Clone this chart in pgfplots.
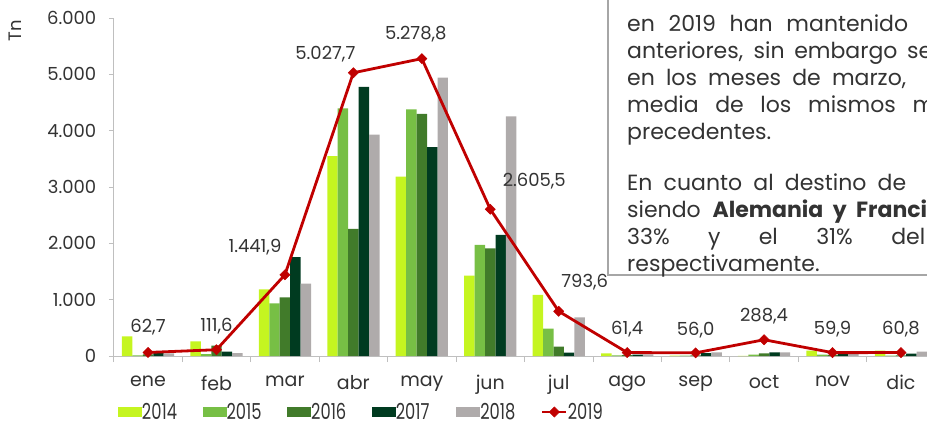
\documentclass[border=0pt]{standalone}
\usepackage{pgfplots}
\pgfplotsset{compat=1.18}
\usepackage{pgfplotstable}
\usepackage{fontspec}
\setmainfont{Poppins}
\definecolor{c14}{HTML}{C5F520}
\definecolor{c15}{HTML}{77BF45}
\definecolor{c16}{HTML}{417B2A}
\definecolor{c17}{HTML}{003B20}
\definecolor{c18}{HTML}{AFABAB}
\definecolor{cred}{HTML}{C00000}
\definecolor{axgray}{HTML}{BFBFBF}
\definecolor{txt}{HTML}{333333}

\pgfplotsset{
  barleg/.style={legend image code/.code={\fill[#1] (0pt,-5pt) rectangle (24pt,5pt);}},
  lineleg/.style={legend image code/.code={\draw[mark repeat=2, mark phase=2, #1] plot coordinates {(0pt,0pt) (12pt,0pt) (24pt,0pt)};}},
}

\pgfplotstableread{
m y14 y15 y16 y17 y18
0 350 10 30 50 45
1 260 35 183 77 53
2 1184 936 1042 1757 1284
3 3550 4395 2255 4776 3929
4 3184 4379 4296 3710 4941
5 1426 1971 1911 2148 4255
6 1083 485 166 59 686
7 47 12 15 25 30
8 6 6 10 53 65
9 3 24 47 65 65
10 95 24 20 35 35
11 95 6 10 41 77
}\bardata

\pgfplotstableread{
m v dx dy
0 62.7 0 25
1 111.6 0 24
2 1441.9 -30 28
3 5027.7 -28 19
4 5278.8 -6 24
5 2605.5 44 28
6 793.6 26 29
7 61.4 0 23
8 56.0 0 23
9 288.4 0 24
10 59.9 0 23
11 60.8 0 23
}\linedata

\newcommand{\lgd}[1]{\makebox[58.6pt][l]{\scalebox{0.74}[1]{#1}}}
\newcommand{\boxfont}{\fontsize{22}{27}\selectfont}

\begin{document}
\begin{tikzpicture}
\useasboundingbox (0,0) rectangle (927pt,426pt);
\clip (0,0) rectangle (927pt,426pt);
\begin{axis}[
  at={(113.8pt,70pt)}, anchor=south west,
  scale only axis, width=821.4pt, height=338pt,
  xmin=-0.5, xmax=11.5, ymin=0, ymax=6000,
  axis x line=bottom, axis y line=left,
  axis line style={-, draw=axgray, line width=0.9pt},
  xtick={0,...,11},
  xticklabels={ene,feb,mar,abr,may,jun,jul,ago,sep,oct,nov,dic},
  minor xtick={-0.5,0.5,...,11.5},
  major x tick style={draw=none},
  minor x tick style={draw=axgray, line width=0.9pt},
  minor tick length=6pt,
  ytick={0,1000,...,6000},
  major y tick style={draw=axgray, line width=0.9pt},
  major tick length=5pt,
  tick align=outside,
  /pgf/number format/assume math mode=true,
  /pgf/number format/1000 sep={.},
  ticklabel style={font=\fontsize{18}{18}\selectfont, text=txt},
  yticklabel style={xshift=-9pt},
  xticklabel style={yshift=-11pt, font=\fontsize{19}{19}\selectfont},
  legend columns=6,
  legend style={at={(0.0051,-0.1657)}, anchor=west, draw=none, fill=none,
    inner sep=0pt, outer sep=0pt, nodes={inner sep=0pt, text=txt},
    font=\fontsize{22}{22}\selectfont,
    /tikz/every even column/.style={column sep=2pt},
    /tikz/every odd column/.style={column sep=0pt}},
  clip=false,
]
\addplot[ybar, bar width=10.45pt, bar shift=-20.9pt, fill=c14, draw=none, barleg] table[x=m, y=y14] {\bardata};
\addlegendentry{\lgd{2014}}
\addplot[ybar, bar width=10.45pt, bar shift=-10.45pt, fill=c15, draw=none, barleg] table[x=m, y=y15] {\bardata};
\addlegendentry{\lgd{2015}}
\addplot[ybar, bar width=10.45pt, bar shift=0pt, fill=c16, draw=none, barleg] table[x=m, y=y16] {\bardata};
\addlegendentry{\lgd{2016}}
\addplot[ybar, bar width=10.45pt, bar shift=10.45pt, fill=c17, draw=none, barleg] table[x=m, y=y17] {\bardata};
\addlegendentry{\lgd{2017}}
\addplot[ybar, bar width=10.45pt, bar shift=20.9pt, fill=c18, draw=none, barleg] table[x=m, y=y18] {\bardata};
\addlegendentry{\lgd{2018}}
\addplot[sharp plot, cred, line width=2.8pt, mark=square*, mark size=3.6pt,
  mark options={rotate=45, fill=cred, draw=cred, line width=0.5pt},
  lineleg,
  visualization depends on={\thisrow{dx} \as \dx},
  visualization depends on={\thisrow{dy} \as \dy},
  nodes near coords={\pgfmathprintnumber[fixed, fixed zerofill, precision=1, use comma, 1000 sep={.}]{\pgfplotspointmeta}},
  every node near coord/.append style={anchor=center, xshift=\dx pt, yshift=\dy pt,
    font=\fontsize{18}{18}\selectfont, text=txt, inner sep=0pt},
] table[x=m, y=v] {\linedata};
\addlegendentry{\lgd{2019}}
\end{axis}
\node[rotate=90, font=\fontsize{18}{18}\selectfont, text=txt] at (15pt,395pt) {Tn};
\draw[fill=white, draw=gray!70, line width=1.2pt] (608pt,151pt) rectangle (980pt,460pt);
\begin{scope}[every node/.style={anchor=base west, inner sep=0pt, font=\boxfont, text=txt}]
\node at (627pt,394pt) {\makebox[281pt][s]{en 2019 han mantenido}};
\node at (627pt,367pt) {\makebox[305pt][s]{anteriores, sin embargo se}};
\node at (627pt,340pt) {\makebox[279pt][s]{en los meses de marzo,}};
\node at (627pt,313pt) {\makebox[308pt][s]{media de los mismos m}};
\node at (627pt,286pt) {precedentes.};
\node at (627pt,235pt) {\makebox[279pt][s]{En cuanto al destino de}};
\node at (627pt,208pt) {\makebox[300pt][s]{siendo \textbf{Alemania y Franci}}};
\node at (627pt,181pt) {\makebox[298pt][s]{33\% y el 31\% del}};
\node at (627pt,154pt) {respectivamente.};
\end{scope}
\end{tikzpicture}
\end{document}
